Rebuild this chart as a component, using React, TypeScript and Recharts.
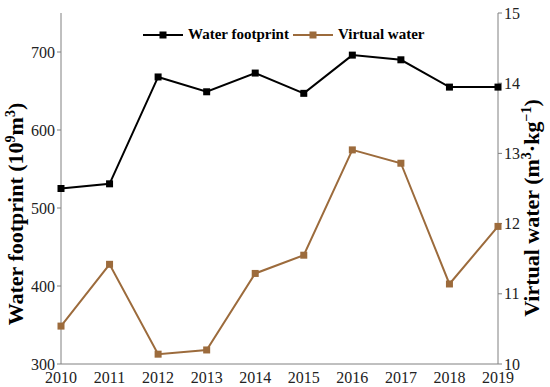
import { LineChart, Line, XAxis, YAxis } from 'recharts';

const years = ['2010', '2011', '2012', '2013', '2014', '2015', '2016', '2017', '2018', '2019'];
const waterFootprint = [525, 531, 668, 649, 673, 647, 696, 690, 655, 655];
const virtualWater = [10.54, 11.42, 10.14, 10.2, 11.29, 11.55, 13.05, 12.86, 11.14, 11.96];
const leftTicks = [300, 400, 500, 600, 700];
const rightTicks = [10, 11, 12, 13, 14, 15];

const BLACK = '#000000';
const BROWN = '#9c6b3c';
const AXIS = '#808080';
const FONT = '"Liberation Serif", "Times New Roman", serif';

const data = years.map((y, i) => ({
  year: y,
  wf: waterFootprint[i],
  vw: virtualWater[i],
}));

const squareDot = (color: string) => (props: any) => {
  const { cx, cy, index } = props;
  return <rect key={`d${index}`} x={cx - 3.5} y={cy - 3.5} width={7} height={7} fill={color} />;
};

const LeftLabel = () => (
  <text
    transform="translate(23,214) rotate(-90)"
    textAnchor="middle"
    fontFamily={FONT}
    fontWeight="bold"
    fontSize={22}
    fill="#000"
  >
    Water footprint (10
    <tspan dy={-8} fontSize={14}>9</tspan>
    <tspan dy={8}>m</tspan>
    <tspan dy={-8} fontSize={14}>3</tspan>
    <tspan dy={8}>)</tspan>
  </text>
);

const RightLabel = () => (
  <text
    transform="translate(539,208) rotate(-90)"
    textAnchor="middle"
    fontFamily={FONT}
    fontWeight="bold"
    fontSize={22}
    fill="#000"
  >
    Virtual water (m
    <tspan dy={-8} fontSize={14}>3</tspan>
    <tspan dy={8}>·kg</tspan>
    <tspan dy={-8} fontSize={14}>−1</tspan>
    <tspan dy={8}>)</tspan>
  </text>
);

const LegendItem = ({ color, label }: { color: string; label: string }) => (
  <span style={{ display: 'inline-flex', alignItems: 'center', marginRight: 4 }}>
    <svg width={40} height={10}>
      <line x1={0} y1={5} x2={40} y2={5} stroke={color} strokeWidth={2} />
      <rect x={16.5} y={1.5} width={7} height={7} fill={color} />
    </svg>
    <span style={{ marginLeft: 5 }}>{label}</span>
  </span>
);

const tickStyle = { fontFamily: FONT, fontSize: 16, fill: '#222' };

export default function App() {
  return (
    <div style={{ position: 'absolute', left: 0, top: 0, width: 550, height: 387, background: '#fff' }}>
      <LineChart width={550} height={387} data={data} margin={{ top: 13, right: 0, bottom: 0, left: 0 }}>
        <XAxis
          dataKey="year"
          height={23}
          tick={tickStyle}
          tickLine={false}
          tickMargin={2}
          axisLine={{ stroke: AXIS }}
          interval={0}
        />
        <XAxis
          xAxisId="top"
          orientation="top"
          dataKey="year"
          height={0}
          tick={false}
          tickLine={false}
          axisLine={{ stroke: AXIS }}
        />
        <YAxis
          yAxisId="left"
          width={61}
          domain={[300, 750]}
          ticks={leftTicks}
          tick={tickStyle}
          tickSize={4}
          tickMargin={2}
          tickLine={{ stroke: AXIS }}
          axisLine={{ stroke: AXIS }}
          label={{ content: () => <LeftLabel /> }}
        />
        <YAxis
          yAxisId="right"
          orientation="right"
          width={52}
          domain={[10, 15]}
          ticks={rightTicks}
          tick={{ ...tickStyle, textAnchor: 'start' }}
          tickSize={4}
          tickMargin={2}
          tickLine={{ stroke: AXIS }}
          axisLine={{ stroke: AXIS }}
          label={{ content: () => <RightLabel /> }}
        />
        <Line
          yAxisId="left"
          dataKey="wf"
          stroke={BLACK}
          strokeWidth={2}
          dot={squareDot(BLACK)}
          isAnimationActive={false}
        />
        <Line
          yAxisId="right"
          dataKey="vw"
          stroke={BROWN}
          strokeWidth={2}
          dot={squareDot(BROWN)}
          isAnimationActive={false}
        />
      </LineChart>
      <div
        style={{
          position: 'absolute',
          top: 26,
          left: 143,
          display: 'flex',
          alignItems: 'center',
          fontFamily: FONT,
          fontWeight: 'bold',
          fontSize: 15,
          lineHeight: '17px',
          color: '#000',
          whiteSpace: 'nowrap',
        }}
      >
        <LegendItem color={BLACK} label="Water footprint" />
        <LegendItem color={BROWN} label="Virtual water" />
      </div>
    </div>
  );
}
